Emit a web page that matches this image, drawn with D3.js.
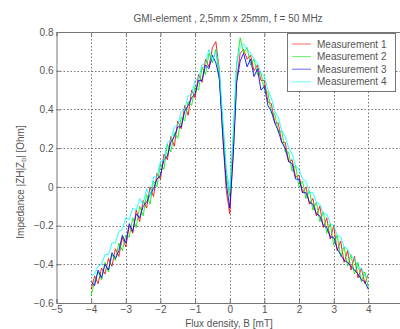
<!DOCTYPE html>
<html><head><meta charset="utf-8">
<script src="https://cdn.jsdelivr.net/npm/d3@7"></script>
<style>
body{margin:0;background:#fff;}
svg{display:block;font-family:"Liberation Sans",Arial,sans-serif;}
</style></head>
<body><svg id="c" width="400" height="329"></svg>
<script>
const B = [-4.0,-3.9,-3.8,-3.7,-3.6,-3.5,-3.4,-3.3,-3.2,-3.1,-3.0,-2.9,-2.8,-2.7,-2.6,-2.5,-2.4,-2.3,-2.2,-2.1,-2.0,-1.9,-1.8,-1.7,-1.6,-1.5,-1.4,-1.3,-1.2,-1.1,-1.0,-0.9,-0.8,-0.7,-0.6,-0.5,-0.4,-0.3,-0.2,-0.1,0.0,0.1,0.2,0.3,0.4,0.5,0.6,0.7,0.8,0.9,1.0,1.1,1.2,1.3,1.4,1.5,1.6,1.7,1.8,1.9,2.0,2.1,2.2,2.3,2.4,2.5,2.6,2.7,2.8,2.9,3.0,3.1,3.2,3.3,3.4,3.5,3.6,3.7,3.8,3.9,4.0];
const meas1 = [-0.53,-0.46,-0.50,-0.42,-0.45,-0.37,-0.41,-0.32,-0.36,-0.26,-0.31,-0.20,-0.24,-0.12,-0.18,-0.07,-0.11,0.00,-0.05,0.07,0.04,0.17,0.14,0.26,0.21,0.34,0.30,0.42,0.37,0.50,0.46,0.58,0.54,0.66,0.62,0.72,0.75,0.60,0.26,-0.02,-0.14,0.18,0.55,0.69,0.71,0.66,0.68,0.60,0.63,0.55,0.55,0.44,0.43,0.33,0.33,0.23,0.23,0.13,0.14,0.05,0.06,-0.03,0.00,-0.09,-0.06,-0.15,-0.10,-0.21,-0.16,-0.27,-0.20,-0.33,-0.28,-0.39,-0.33,-0.43,-0.36,-0.47,-0.42,-0.50,-0.45];
const meas2 = [-0.56,-0.49,-0.44,-0.48,-0.39,-0.44,-0.35,-0.38,-0.29,-0.33,-0.25,-0.26,-0.16,-0.21,-0.10,-0.15,-0.04,-0.09,0.03,0.00,0.12,0.09,0.22,0.18,0.28,0.25,0.36,0.34,0.44,0.42,0.52,0.50,0.62,0.58,0.69,0.64,0.71,0.55,0.32,0.06,-0.05,0.25,0.63,0.77,0.69,0.72,0.63,0.66,0.58,0.59,0.50,0.49,0.38,0.38,0.28,0.29,0.18,0.18,0.08,0.11,0.00,0.03,-0.06,-0.02,-0.12,-0.08,-0.18,-0.13,-0.24,-0.19,-0.30,-0.25,-0.36,-0.31,-0.41,-0.35,-0.45,-0.39,-0.49,-0.44,-0.52];
const meas3 = [-0.49,-0.51,-0.43,-0.47,-0.40,-0.43,-0.34,-0.37,-0.33,-0.25,-0.29,-0.19,-0.23,-0.14,-0.16,-0.10,-0.08,-0.04,-0.01,0.04,0.06,0.14,0.16,0.23,0.26,0.31,0.31,0.39,0.42,0.46,0.48,0.55,0.55,0.63,0.61,0.68,0.64,0.56,0.26,0.02,-0.11,0.16,0.54,0.65,0.69,0.62,0.66,0.57,0.61,0.50,0.52,0.42,0.39,0.33,0.29,0.23,0.20,0.13,0.12,0.04,0.04,-0.03,-0.03,-0.08,-0.09,-0.14,-0.15,-0.20,-0.21,-0.26,-0.26,-0.32,-0.35,-0.38,-0.39,-0.41,-0.43,-0.45,-0.48,-0.49,-0.53];
const meas4 = [-0.46,-0.45,-0.41,-0.40,-0.35,-0.35,-0.29,-0.29,-0.23,-0.22,-0.16,-0.17,-0.11,-0.12,-0.06,-0.09,-0.01,-0.05,0.05,0.05,0.13,0.14,0.23,0.24,0.31,0.32,0.39,0.40,0.47,0.48,0.55,0.56,0.63,0.64,0.71,0.65,0.70,0.61,0.35,0.09,-0.02,0.27,0.64,0.72,0.74,0.71,0.69,0.66,0.64,0.59,0.57,0.50,0.46,0.39,0.36,0.29,0.26,0.20,0.17,0.11,0.09,0.04,0.03,-0.03,-0.03,-0.08,-0.09,-0.14,-0.14,-0.19,-0.20,-0.25,-0.26,-0.31,-0.32,-0.36,-0.37,-0.42,-0.42,-0.46,-0.46];
const seriesNames = ["Measurement 1","Measurement 2","Measurement 3","Measurement 4"];
const seriesColors = ["#ff0000","#00ee00","#0000ff","#00ffff"];
const xTicks = [-5,-4,-3,-2,-1,0,1,2,3,4,5];
const yTicks = [-0.6,-0.4,-0.2,0,0.2,0.4,0.6,0.8];
const title = "GMI-element , 2,5mm x 25mm, f = 50 MHz";

const svg = d3.select("#c");
const L = 56.5, R = 403, T = 32, Bt = 303;
const x = d3.scaleLinear().domain([-5,5]).range([L,R]);
const y = d3.scaleLinear().domain([-0.6,0.8]).range([Bt,T]);
const axisCol = "#777", textCol = "#555";
const fs = "10px";

// grid
const g = svg.append("g");
g.selectAll(".gx").data(xTicks.slice(1,-1)).enter().append("line")
  .attr("x1",d=>Math.round(x(d))+0.5).attr("x2",d=>Math.round(x(d))+0.5)
  .attr("y1",T).attr("y2",Bt).attr("stroke","#777").attr("stroke-width",1).attr("stroke-dasharray","1.5,2");
g.selectAll(".gy").data(yTicks.slice(1,-1)).enter().append("line")
  .attr("y1",d=>Math.round(y(d))+0.5).attr("y2",d=>Math.round(y(d))+0.5)
  .attr("x1",L).attr("x2",R).attr("stroke","#777").attr("stroke-width",1).attr("stroke-dasharray","1.5,2");

// lines
const lineGen = d3.line().x((d,i)=>x(B[i])).y(d=>y(d));
[meas1,meas2,meas3,meas4].forEach((s,k)=>{
  svg.append("path").datum(s).attr("d",lineGen).attr("fill","none")
    .attr("stroke",seriesColors[k]).attr("stroke-width",1).attr("stroke-opacity",0.85);
});

// axes
const xa = svg.append("g").attr("transform",`translate(0,${Bt})`)
  .call(d3.axisBottom(x).tickValues(xTicks).tickSize(-4).tickPadding(3).tickFormat(d3.format("")));
const xt = svg.append("g").attr("transform",`translate(0,${T})`)
  .call(d3.axisTop(x).tickValues(xTicks).tickSize(-4).tickFormat(""));
const ya = svg.append("g").attr("transform",`translate(${L},0)`)
  .call(d3.axisLeft(y).tickValues(yTicks).tickSize(-4).tickPadding(3).tickFormat(d=>d===0?"0":d3.format(".1f")(d)));
[xa,xt,ya].forEach(a=>{
  a.select(".domain").attr("stroke",axisCol);
  a.selectAll(".tick line").attr("stroke",axisCol);
  a.selectAll("text").attr("fill",textCol).style("font-size",fs);
});

// title
svg.append("text").attr("x",228).attr("y",22).attr("text-anchor","middle")
  .attr("fill",textCol).style("font-size",fs).text(title);
// x label
svg.append("text").attr("x",229).attr("y",326.5).attr("text-anchor","middle")
  .attr("fill",textCol).style("font-size",fs).text("Flux density, B [mT]");
// y label
const yl = svg.append("text").attr("transform","translate(24,182) rotate(-90)").attr("text-anchor","middle")
  .attr("fill",textCol).style("font-size",fs);
yl.append("tspan").text("Impedance |ZH|Z");
yl.append("tspan").attr("dy",2).style("font-size","7px").text("b");
yl.append("tspan").attr("dy",-2).text("| [Ohm]");

// legend
const lg = svg.append("g");
lg.append("rect").attr("x",287.5).attr("y",33.5).attr("width",108).attr("height",58)
  .attr("fill","#fff").attr("stroke",axisCol);
seriesNames.forEach((n,k)=>{
  const yy = 44 + k*12.6;
  lg.append("line").attr("x1",292).attr("x2",311).attr("y1",yy).attr("y2",yy)
    .attr("stroke",seriesColors[k]).attr("stroke-opacity",0.6);
  lg.append("text").attr("x",317).attr("y",yy+3.5).attr("fill",textCol).style("font-size",fs).text(n);
});
</script></body></html>
